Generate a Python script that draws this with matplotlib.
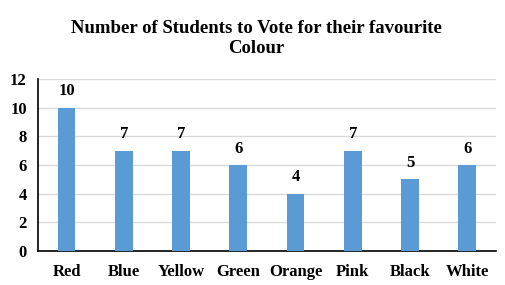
import matplotlib.pyplot as plt

colours = ['Red', 'Blue', 'Yellow', 'Green', 'Orange', 'Pink', 'Black', 'White']
votes = [10, 7, 7, 6, 4, 7, 5, 6]

plt.rcParams['font.family'] = 'Liberation Serif'
plt.rcParams['font.weight'] = 'bold'

fig = plt.figure(figsize=(5.06, 2.85), dpi=100)
ax = fig.add_axes([0.075, 0.119, 0.905, 0.604])

x = range(len(colours))
bars = ax.bar(x, votes, width=0.31, color='#5b9bd5', zorder=3)

for b, v in zip(bars, votes):
    ax.annotate(str(v), (b.get_x() + b.get_width() / 2, v), xytext=(0, 6),
                textcoords='offset points', ha='center', va='bottom',
                fontsize=12, fontweight='bold')

ax.set_xlim(-0.5, len(colours) - 0.5)
ax.set_ylim(0, 12)
ax.set_yticks(range(0, 13, 2))
ax.set_xticks(list(x))
ax.set_xticklabels(colours)
ax.tick_params(axis='both', length=0, labelsize=12)
ax.tick_params(axis='x', pad=9)
ax.tick_params(axis='y', pad=8)
ax.yaxis.grid(True, color='#d9d9d9', linewidth=1, zorder=0)
ax.set_axisbelow(True)

for s in ['top', 'right']:
    ax.spines[s].set_visible(False)
ax.spines['left'].set_color('black')
ax.spines['bottom'].set_color('black')
ax.spines['left'].set_linewidth(1.2)
ax.spines['bottom'].set_linewidth(1.2)

fig.text(0.506, 0.93, 'Number of Students to Vote for their favourite\nColour',
         ha='center', va='top', fontsize=13.5, fontweight='bold', linespacing=1.2)

fig.savefig('out.png', dpi=100)
